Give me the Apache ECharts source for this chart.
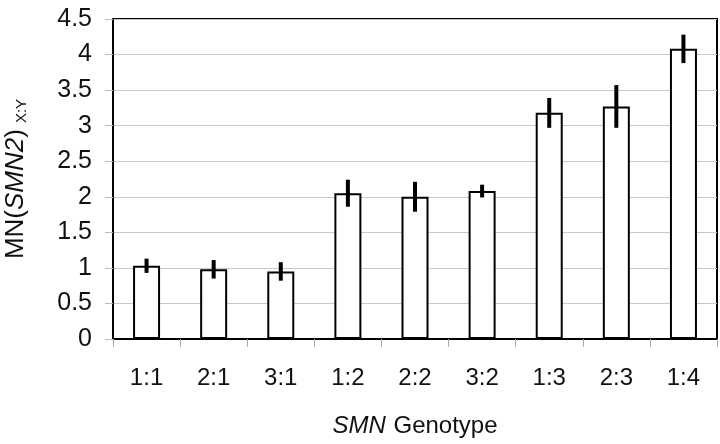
<!DOCTYPE html>
<html><head><meta charset="utf-8">
<script src="https://cdn.jsdelivr.net/npm/echarts@6/dist/echarts.min.js"></script>
<style>html,body{margin:0;padding:0;background:#fff}#c{width:720px;height:444px}</style>
</head><body><div id="c"></div>
<script>
var genotypes = ['1:1','2:1','3:1','1:2','2:2','3:2','1:3','2:3','1:4'];
var means = [1.03, 0.98, 0.95, 2.05, 2.00, 2.08, 3.18, 3.27, 4.08];
var errors = [0.10, 0.13, 0.13, 0.19, 0.21, 0.09, 0.21, 0.30, 0.20];
var yTicks = [0, 0.5, 1, 1.5, 2, 2.5, 3, 3.5, 4, 4.5];

var FONT = '"Liberation Sans", Arial, sans-serif';
var chart = echarts.init(document.getElementById('c'), null, {renderer:'canvas'});
var errData = genotypes.map(function(g,i){ return [i, means[i]-errors[i], means[i]+errors[i]]; });

chart.setOption({
  animation:false,
  backgroundColor:'#fff',
  textStyle:{fontFamily:FONT},
  grid:{left:113, right:3, top:19, bottom:105, containLabel:false, outerBoundsMode:'none',
        show:true, borderColor:'#000', borderWidth:2, backgroundColor:'transparent'},
  xAxis:{
    type:'category', data:genotypes,
    axisLine:{lineStyle:{color:'#000', width:2}},
    axisTick:{show:true, length:8, lineStyle:{color:'#aaa', width:1}},
    axisLabel:{fontSize:24, color:'#111', margin:27, fontFamily:FONT},
    name:'{i|SMN}{n| Genotype}', nameLocation:'middle', nameGap:75,
    nameTextStyle:{rich:{i:{fontStyle:'italic', fontSize:24, color:'#111', fontFamily:FONT, padding:[0,1,0,0]}, n:{fontSize:24, color:'#111', fontFamily:FONT}}}
  },
  yAxis:{
    type:'value', min:0, max:4.5, interval:0.5,
    axisLine:{show:true, lineStyle:{color:'#000', width:2}},
    axisTick:{show:true, length:8, lineStyle:{color:'#bbb', width:1}},
    axisLabel:{fontSize:25, color:'#111', margin:21, fontFamily:FONT,
      formatter:function(v){ return yTicks.indexOf(v)>=0 ? String(v) : ''; }},
    splitLine:{show:true, lineStyle:{color:'#c8c8c8', width:1}},
    name:'{n|MN(}{i|SMN2}{n|)}{s|X:Y}', nameLocation:'middle', nameRotate:90, nameGap:84,
    nameTextStyle:{rich:{
      n:{fontSize:26, color:'#111', fontFamily:FONT},
      i:{fontSize:26, fontStyle:'italic', color:'#111', fontFamily:FONT},
      s:{fontSize:15, color:'#111', fontFamily:FONT, verticalAlign:'bottom', padding:[10,0,0,6]}
    }}
  },
  series:[
    {type:'bar', data:means, barWidth:27,
     itemStyle:{color:'#fff', borderColor:'#000', borderWidth:2}},
    {type:'custom', data:errData, z:5,
     renderItem:function(params, api){
       var x = api.value(0);
       var lo = api.coord([x, api.value(1)]);
       var hi = api.coord([x, api.value(2)]);
       return {type:'rect', shape:{x:lo[0]-2, y:hi[1], width:4, height:lo[1]-hi[1]}, style:{fill:'#000'}};
     }}
  ]
});
</script></body></html>
